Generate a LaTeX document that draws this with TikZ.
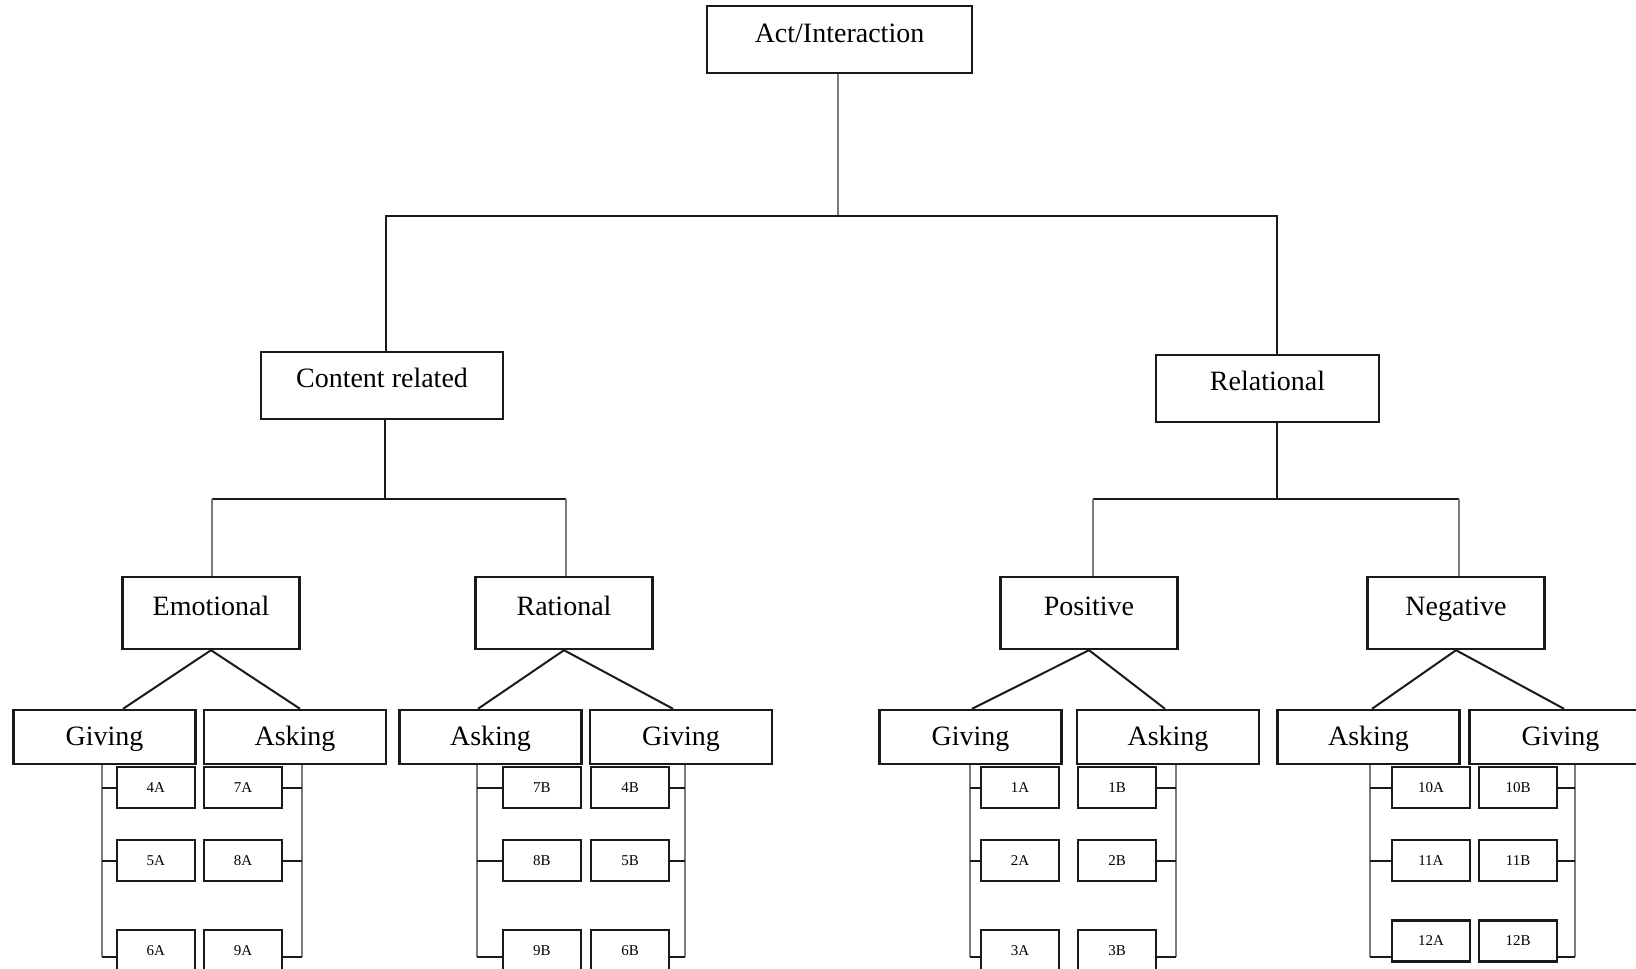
\documentclass[tikz,border=0pt]{standalone}
\usepackage{fontspec}
\setmainfont{Liberation Serif}
\usetikzlibrary{positioning,calc}
\definecolor{BoxBlack}{HTML}{1A1A1A}
\definecolor{StemGray}{HTML}{7A7A7A}

\begin{document}
\begin{tikzpicture}[x=.5pt,y=-.5pt,
  catbox/.style={draw=BoxBlack,line width=1.2pt,inner sep=0pt,anchor=base,
    font=\fontsize{14}{16}\selectfont},
  rootbox/.style={catbox,minimum width=132.5pt,text height=18.5pt,text depth=15pt},
  mainbox/.style={catbox,text height=17.5pt,text depth=16pt},
  subbox/.style={catbox,minimum width=88.5pt,text height=19pt,text depth=17pt},
  actbox/.style={catbox,minimum width=91pt,text height=17.5pt,text depth=9.5pt},
  codebox/.style={draw=BoxBlack,line width=1.1pt,inner sep=0pt,minimum width=39pt,
    minimum height=20.5pt,font=\fontsize{7.5}{8}\selectfont},
  link/.style={line width=1pt,BoxBlack},
  stem/.style={line width=1.1pt,StemGray}]
  \useasboundingbox (0,0) rectangle (1636,968);

  \node[rootbox] (act) at (839.5,43) {Act/Interaction};
  \node[mainbox,minimum width=121pt] (content) at (382,387) {Content related};
  \node[mainbox,minimum width=111.5pt] (relational) at (1267.5,390) {Relational};
  \node[subbox] (emotional) at (211,615) {Emotional};
  \node[subbox] (rational) at (564,615) {Rational};
  \node[subbox] (positive) at (1089,615) {Positive};
  \node[subbox] (negative) at (1456,615) {Negative};
  \foreach \nm/\x/\txt in {gE/104.5/Giving,aE/295/Asking,aR/490.5/Asking,gR/681/Giving,
      gP/970.5/Giving,aP/1168/Asking,aN/1368.5/Asking,gN/1560.5/Giving}
    \node[actbox] (\nm) at (\x,745) {\txt};

  \coordinate (tL) at (386,216);
  \coordinate (tR) at (1277,216);
  \coordinate (cJ) at (385,499);
  \coordinate (cL) at (212,499);
  \coordinate (cR) at (566,499);
  \coordinate (rJ) at (1277,499);
  \coordinate (rL) at (1093,499);
  \coordinate (rR) at (1459,499);

  \draw[stem] (act.south -| 838,0) -- (838,216);
  \draw[link] (content.north -| tL) -- (tL) -- (tR) -- (relational.north -| tR);
  \draw[link] (content.south -| cJ) -- (cJ);
  \draw[link] (relational.south -| rJ) -- (rJ);
  \draw[link] (cL) -- (cR);
  \draw[link] (rL) -- (rR);
  \draw[stem] (cL) -- (emotional.north -| cL);
  \draw[stem] (cR) -- (rational.north -| cR);
  \draw[stem] (rL) -- (positive.north -| rL);
  \draw[stem] (rR) -- (negative.north -| rR);

  \foreach \p/\a/\b/\da/\db in {emotional/gE/aE/18.5/5,rational/aR/gR/-12.5/-8,
      positive/gP/aP/1.5/-3,negative/aN/gN/3.5/3.5}
    \draw[link] ([xshift=\da*.5pt]\a.north) -- (\p.south) -- ([xshift=\db*.5pt]\b.north);

  \foreach \a/\b/\c/\anc/\out/\x/\sx/\yc/\up [count=\i] in {
      4A/5A/6A/east/west/196/102/950.5/gE, 7A/8A/9A/west/east/203/302/950.5/aE,
      7B/8B/9B/east/west/582/477/950.5/aR, 4B/5B/6B/west/east/590/685/950.5/gR,
      1A/2A/3A/east/west/1060/970/950.5/gP, 1B/2B/3B/west/east/1077/1176/950.5/aP,
      10A/11A/12A/east/west/1471/1370/941/aN, 10B/11B/12B/west/east/1478/1575/941/gN}{
    \node[codebox,anchor=\anc] (b\a) at (\x,787.5) {\a};
    \node[codebox,anchor=\anc] (b\b) at (\x,860.5) {\b};
    \node[codebox,anchor=\anc] (b\c) at (\x,\yc) {\c};
    \coordinate (s\i) at (\sx,957);
    \draw[stem] (\up.south -| s\i) -- (s\i);
    \draw[link] (b\a.\out) -- (b\a.\out -| s\i);
    \draw[link] (b\b.\out) -- (b\b.\out -| s\i);
    \draw[link] (s\i) -- (s\i -| b\c.\out);
  }
\end{tikzpicture}
\end{document}
